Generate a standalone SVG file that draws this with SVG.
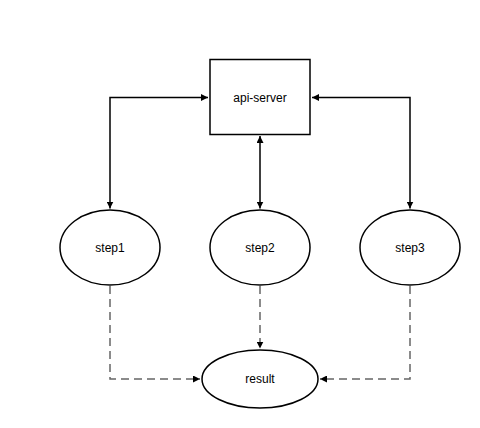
<svg xmlns="http://www.w3.org/2000/svg" width="480" height="428" viewBox="0 0 480 428">
<style>
.node{fill:#fff;stroke:#000;stroke-width:1.5}
.lbl{font-family:"Liberation Sans",Arial,sans-serif;font-size:12px;fill:#000;text-anchor:middle}
.solid{fill:none;stroke:#000;stroke-width:1.5}
.dash{fill:none;stroke:#666;stroke-width:1.5;stroke-dasharray:8,5}
</style>
<defs>
<marker id="ab" viewBox="0 0 10 10" refX="10" refY="5" markerWidth="7" markerHeight="7" markerUnits="userSpaceOnUse" orient="auto-start-reverse"><path d="M0,0 L10,5 L0,10 z" fill="#000"/></marker>
</defs>
<rect width="480" height="428" fill="#fff"/>
<g id="connectors">
<path class="solid" d="M208,97.5 L110,97.5 L110,208.5" marker-start="url(#ab)" marker-end="url(#ab)"/>
<path class="solid" d="M312,97.5 L410,97.5 L410,208.5" marker-start="url(#ab)" marker-end="url(#ab)"/>
<path class="solid" d="M260,136 L260,208.5" marker-start="url(#ab)" marker-end="url(#ab)"/>
<path class="dash" d="M110,286 L110,379 L200,379" marker-end="url(#ab)"/>
<path class="dash" d="M260,286 L260,348.5" marker-end="url(#ab)"/>
<path class="dash" d="M410,286 L410,379 L320,379" marker-end="url(#ab)"/>
</g>
<g id="api-server"><rect class="node" x="210" y="59.5" width="100" height="75"/><text class="lbl" x="260" y="101.5">api-server</text></g>
<g id="step1"><ellipse class="node" cx="110" cy="247.5" rx="50" ry="37.5"/><text class="lbl" x="110" y="251.5">step1</text></g>
<g id="step2"><ellipse class="node" cx="260" cy="247.5" rx="50" ry="37.5"/><text class="lbl" x="260" y="251.5">step2</text></g>
<g id="step3"><ellipse class="node" cx="410" cy="247.5" rx="50" ry="37.5"/><text class="lbl" x="410" y="251.5">step3</text></g>
<g id="result"><ellipse class="node" cx="260" cy="379" rx="58" ry="29"/><text class="lbl" x="260" y="383">result</text></g>
</svg>
